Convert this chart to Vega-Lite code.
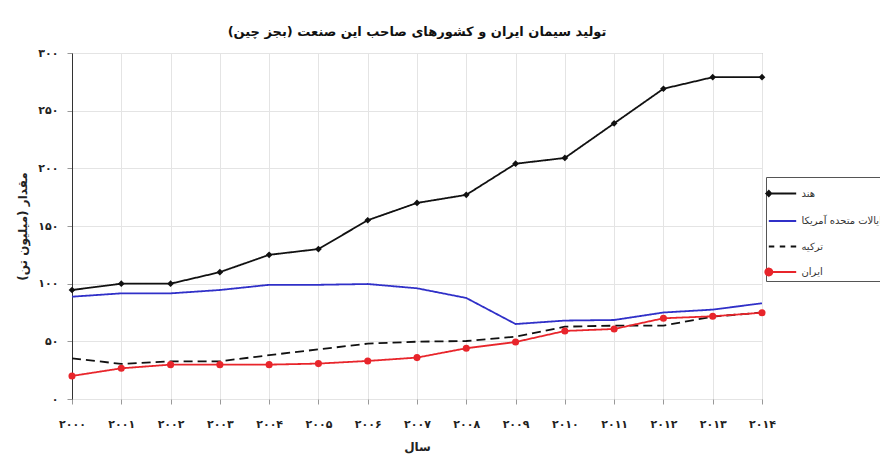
{
  "$schema": "https://vega.github.io/schema/vega-lite/v6.json",
  "autosize": {"type": "none"},
  "width": 690,
  "height": 346,
  "padding": {"left": 72, "top": 53, "right": 118, "bottom": 56},
  "background": "white",
  "config": {
    "font": "DejaVu Sans",
    "view": {"stroke": "#9a9a9a", "strokeWidth": 1},
    "axis": {"gridColor": "#e4e4e4", "gridWidth": 1, "domainColor": "#555", "tickColor": "#999", "labelColor": "#222", "titleColor": "#222"}
  },
  "title": {"text": "تولید سیمان ایران و کشورهای صاحب این صنعت (بجز چین)", "fontSize": 13, "fontWeight": "bold", "font": "DejaVu Sans", "color": "#111", "offset": 8, "anchor": "middle"},
  "data": {"values": [
    {"country": "هند", "year": 2000, "value": 94.5},
    {"country": "هند", "year": 2001, "value": 100},
    {"country": "هند", "year": 2002, "value": 100},
    {"country": "هند", "year": 2003, "value": 110},
    {"country": "هند", "year": 2004, "value": 125},
    {"country": "هند", "year": 2005, "value": 130},
    {"country": "هند", "year": 2006, "value": 155},
    {"country": "هند", "year": 2007, "value": 170},
    {"country": "هند", "year": 2008, "value": 177},
    {"country": "هند", "year": 2009, "value": 204},
    {"country": "هند", "year": 2010, "value": 209},
    {"country": "هند", "year": 2011, "value": 239},
    {"country": "هند", "year": 2012, "value": 269},
    {"country": "هند", "year": 2013, "value": 279},
    {"country": "هند", "year": 2014, "value": 279},
    {"country": "ایالات متحده آمریکا", "year": 2000, "value": 88.7},
    {"country": "ایالات متحده آمریکا", "year": 2001, "value": 91.6},
    {"country": "ایالات متحده آمریکا", "year": 2002, "value": 91.6},
    {"country": "ایالات متحده آمریکا", "year": 2003, "value": 94.5},
    {"country": "ایالات متحده آمریکا", "year": 2004, "value": 99},
    {"country": "ایالات متحده آمریکا", "year": 2005, "value": 99},
    {"country": "ایالات متحده آمریکا", "year": 2006, "value": 99.7},
    {"country": "ایالات متحده آمریکا", "year": 2007, "value": 96},
    {"country": "ایالات متحده آمریکا", "year": 2008, "value": 87.6},
    {"country": "ایالات متحده آمریکا", "year": 2009, "value": 65},
    {"country": "ایالات متحده آمریکا", "year": 2010, "value": 68},
    {"country": "ایالات متحده آمریکا", "year": 2011, "value": 68.5},
    {"country": "ایالات متحده آمریکا", "year": 2012, "value": 75},
    {"country": "ایالات متحده آمریکا", "year": 2013, "value": 77.5},
    {"country": "ایالات متحده آمریکا", "year": 2014, "value": 83},
    {"country": "ترکیه", "year": 2000, "value": 35.3},
    {"country": "ترکیه", "year": 2001, "value": 30.4},
    {"country": "ترکیه", "year": 2002, "value": 32.7},
    {"country": "ترکیه", "year": 2003, "value": 32.7},
    {"country": "ترکیه", "year": 2004, "value": 38},
    {"country": "ترکیه", "year": 2005, "value": 43},
    {"country": "ترکیه", "year": 2006, "value": 48},
    {"country": "ترکیه", "year": 2007, "value": 49.7},
    {"country": "ترکیه", "year": 2008, "value": 50.3},
    {"country": "ترکیه", "year": 2009, "value": 54},
    {"country": "ترکیه", "year": 2010, "value": 62.7},
    {"country": "ترکیه", "year": 2011, "value": 63.6},
    {"country": "ترکیه", "year": 2012, "value": 63.6},
    {"country": "ترکیه", "year": 2013, "value": 71.4},
    {"country": "ترکیه", "year": 2014, "value": 75},
    {"country": "ایران", "year": 2000, "value": 20},
    {"country": "ایران", "year": 2001, "value": 26.6},
    {"country": "ایران", "year": 2002, "value": 29.8},
    {"country": "ایران", "year": 2003, "value": 29.8},
    {"country": "ایران", "year": 2004, "value": 29.8},
    {"country": "ایران", "year": 2005, "value": 30.7},
    {"country": "ایران", "year": 2006, "value": 33},
    {"country": "ایران", "year": 2007, "value": 35.9},
    {"country": "ایران", "year": 2008, "value": 44},
    {"country": "ایران", "year": 2009, "value": 49.4},
    {"country": "ایران", "year": 2010, "value": 59},
    {"country": "ایران", "year": 2011, "value": 60.7},
    {"country": "ایران", "year": 2012, "value": 70},
    {"country": "ایران", "year": 2013, "value": 71.7},
    {"country": "ایران", "year": 2014, "value": 74.8}
  ]},
  "encoding": {
    "x": {"field": "year", "type": "quantitative", "scale": {"domain": [2000, 2014], "nice": false, "zero": false},
      "axis": {"values": [2000,2001,2002,2003,2004,2005,2006,2007,2008,2009,2010,2011,2012,2013,2014], "title": "سال", "titleFontSize": 12, "titleFontWeight": "bold", "titlePadding": 12, "labelFontSize": 11, "labelFontWeight": "bold", "tickSize": 5, "labelPadding": 14, "labelDx": -4, "labelFlush": false, "domain": false,
        "labelExpr": "'۲۰' + ['۰','۱','۲','۳','۴','۵','۶','۷','۸','۹'][floor(datum.value/10)%10] + ['۰','۱','۲','۳','۴','۵','۶','۷','۸','۹'][datum.value%10]"}},
    "y": {"field": "value", "type": "quantitative", "scale": {"domain": [0, 300], "nice": false},
      "axis": {"values": [0,50,100,150,200,250,300], "title": "مقدار (میلیون تن)", "titleFontSize": 12, "titleFontWeight": "bold", "titlePadding": 8, "labelFontSize": 11, "labelFontWeight": "bold", "tickSize": 5, "labelPadding": 9, "domainColor": "#333",
        "labelExpr": "datum.value == 0 ? '۰' : (datum.value < 100 ? ['۰','۱','۲','۳','۴','۵','۶','۷','۸','۹'][floor(datum.value/10)] + '۰' : ['۰','۱','۲','۳','۴','۵','۶','۷','۸','۹'][floor(datum.value/100)] + ['۰','۱','۲','۳','۴','۵','۶','۷','۸','۹'][floor(datum.value/10)%10] + '۰')"}}
  },
  "layer": [
    {
      "mark": {"type": "line", "strokeWidth": 1.8},
      "encoding": {
        "color": {"field": "country", "type": "nominal", "scale": {"domain": ["هند", "ایالات متحده آمریکا", "ترکیه", "ایران"], "range": ["#111111", "#3030c8", "#111111", "#e8252b"]}},
        "strokeDash": {"field": "country", "type": "nominal", "scale": {"domain": ["هند", "ایالات متحده آمریکا", "ترکیه", "ایران"], "range": [[1, 0], [1, 0], [9, 5], [1, 0]]}, "legend": null},
        "strokeWidth": {"condition": {"test": "datum.country == 'ترکیه'", "value": 2.6}, "value": 1.8}
      }
    },
    {
      "transform": [{"filter": "datum.country == 'هند'"}],
      "mark": {"type": "point", "shape": "diamond", "filled": true, "size": 45, "color": "#111111", "opacity": 1}
    },
    {
      "transform": [{"filter": "datum.country == 'ایران'"}],
      "mark": {"type": "point", "shape": "circle", "filled": true, "size": 50, "color": "#e8252b", "opacity": 1}
    },
    {
      "mark": {"type": "point", "filled": true, "opacity": 0},
      "encoding": {
        "color": {"field": "country", "type": "nominal", "scale": {"domain": ["هند", "ایالات متحده آمریکا", "ترکیه", "ایران"], "range": ["#111111", "#3030c8", "#111111", "#e8252b"]},
          "legend": {"title": null, "orient": "none", "legendX": 694, "legendY": 124, "padding": 1.5, "strokeColor": "#555", "fillColor": "white", "symbolSize": 750, "symbolOpacity": 1, "symbolStrokeWidth": 2, "labelFontSize": 10, "labelColor": "#333", "labelOffset": 4, "labelLimit": 300, "rowPadding": 5.5,
            "encode": {"symbols": {"update": {"fill": {"scale": "color", "field": "value"}, "stroke": {"scale": "color", "field": "value"}, "strokeWidth": {"value": 2}, "opacity": {"value": 1}}}}}},
        "shape": {"field": "country", "type": "nominal", "scale": {"domain": ["هند", "ایالات متحده آمریکا", "ترکیه", "ایران"], "range": ["M-1,0H1M-1,-0.18L-0.82,0L-1,0.18L-1.18,0Z", "M-1,0H1", "M-1,0H-0.6M-0.2,0H0.2M0.6,0H1", "M-1,0H1M-1.25,0A0.25,0.25 0 1,0 -0.75,0A0.25,0.25 0 1,0 -1.25,0Z"]},
          "legend": {"title": null, "orient": "none", "legendX": 694, "legendY": 124, "padding": 1.5, "strokeColor": "#555", "fillColor": "white", "symbolSize": 750, "symbolOpacity": 1, "symbolStrokeWidth": 2, "labelFontSize": 10, "labelColor": "#333", "labelOffset": 4, "labelLimit": 300, "rowPadding": 5.5,
            "encode": {"symbols": {"update": {"fill": {"scale": "color", "field": "value"}, "stroke": {"scale": "color", "field": "value"}, "strokeWidth": {"value": 2}, "opacity": {"value": 1}}}}}}
      }
    }
  ]
}
